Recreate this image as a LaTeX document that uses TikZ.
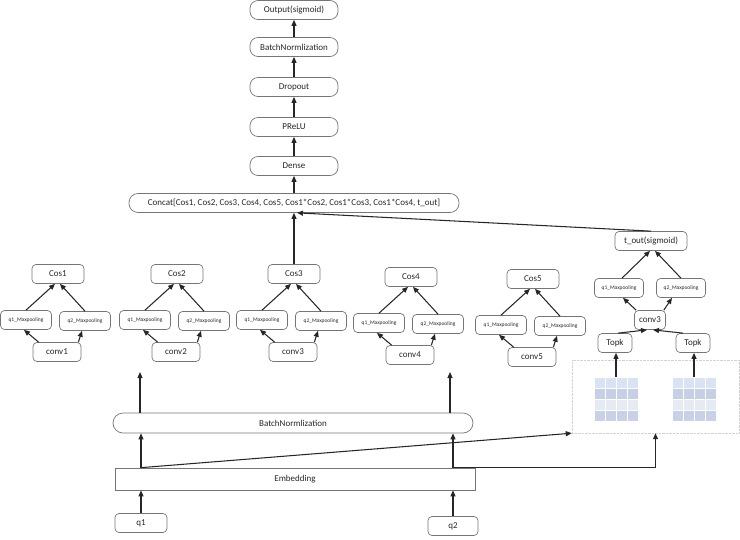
\documentclass[tikz,border=0pt]{standalone}
\usepackage{fontspec}
\setmainfont{Carlito}
\usepackage{xcolor}
\usepackage{tikz}
\usetikzlibrary{arrows.meta,positioning,calc}

\definecolor{boxline}{HTML}{767676}
\definecolor{gridA}{HTML}{DAE3F1}
\definecolor{gridB}{HTML}{C5CFE5}
\definecolor{gridC}{HTML}{E6EAF3}
\definecolor{gridD}{HTML}{C8D1E7}

\begin{document}
\begin{tikzpicture}[x=1pt, y=-1pt,
  every node/.style={font=\fontsize{9}{10}\selectfont, text=black!85},
  box/.style={draw=boxline, line width=0.7pt, rounded corners=4pt,
              minimum height=19pt, inner sep=1pt},
  pill/.style={box, rounded corners=8pt},
  poolbox/.style={box, minimum width=51pt, font=\fontsize{5.5}{6}\selectfont},
  arr/.style={-{Triangle[width=5pt,length=6pt]}, line width=1.05pt, black!85}]

\useasboundingbox (0,0) rectangle (740,539);

%% ── Output chain (1 unit = 1pt, y downwards) ────────────────────────────────
\node[pill, minimum width=88pt] (out)    at (294, 10)  {Output(sigmoid)};
\node[pill, minimum width=88pt] (bnt)    at (294, 47)  {BatchNormlization};
\node[pill, minimum width=88pt] (drop)   at (294, 87)  {Dropout};
\node[pill, minimum width=88pt] (prelu)  at (294, 127) {PReLU};
\node[pill, minimum width=88pt] (dense)  at (294, 166) {Dense};
\node[box, rounded corners=9pt, minimum width=330pt] (concat) at (294, 203)
  {Concat[Cos1, Cos2, Cos3, Cos4, Cos5, Cos1*Cos2, Cos1*Cos3, Cos1*Cos4, t\_out]};

\foreach \a/\b in {concat/dense, dense/prelu, prelu/drop, drop/bnt, bnt/out}
  \draw[arr] (\a.north) -- (\b.south);

%% ── Conv groups 1..5 ────────────────────────────────────────────────────────
\foreach \i/\cx/\dy in {1/58/0, 2/177/0, 3/294/0, 4/411/3, 5/533/5}{
  \node[box, minimum width=52pt] (cos\i) at (\cx, {274+\dy}) {Cos\i};
  \node[poolbox] (qa\i) at ({\cx-32}, {320+\dy}) {q1\_Maxpooling};
  \node[poolbox] (qb\i) at ({\cx+27}, {321+\dy}) {q2\_Maxpooling};
  \node[box, minimum width=48pt] (conv\i) at ({\cx-1}, {352+\dy}) {conv\i};
  \draw[arr] ([xshift=6pt]conv\i.north west) -- ([xshift=-2pt]qa\i.south);
  \draw[arr] ([xshift=-3pt]conv\i.north east) -- ([xshift=-3pt]qb\i.south);
  \draw[arr] (qa\i.north) -- ([xshift=-3pt]cos\i.south);
  \draw[arr] (qb\i.north) -- ([xshift=2pt]cos\i.south);
}

\draw[arr] (cos3.north) -- (cos3.north |- concat.south);

%% ── Top-k branch ────────────────────────────────────────────────────────────
\node[box, minimum width=72pt] (tout) at (651, 241) {t\_out(sigmoid)};
\node[poolbox, minimum width=49pt] (qa6) at (619, 288) {q1\_Maxpooling};
\node[poolbox, minimum width=49pt] (qb6) at (681, 288) {q2\_Maxpooling};
\node[box, minimum width=31pt] (conv6) at (650, 320) {conv3};
\node[box, minimum width=34pt] (topk1) at (615, 343) {Topk};
\node[box, minimum width=34pt] (topk2) at (693, 343) {Topk};

\node[draw=gray!35, densely dotted, minimum width=167pt, minimum height=73pt,
      inner sep=0pt] (tkbox) at (655.5, 396.5) {};

\foreach \g/\gx in {1/594, 2/672}{
  \node[minimum width=44pt, minimum height=44pt, inner sep=0pt] (grid\g)
    at ({\gx+22}, 399) {};
  \foreach \r/\col in {0/gridA, 1/gridB, 2/gridC, 3/gridD}
    \foreach \c in {0,...,3}
      \fill[\col] ({\gx+\c*11+0.5}, {377+\r*11+0.5}) rectangle ++(10, 10);
}

\draw[arr] (grid1.north) -- (grid1.north |- topk1.south);
\draw[arr] (grid2.north) -- (grid2.north |- topk2.south);
\draw[arr] ([xshift=3pt]topk1.north) -- ([xshift=-3pt]conv6.south);
\draw[arr] ([xshift=-10pt]topk2.north) -- ([xshift=3pt]conv6.south);
\draw[arr] ([xshift=2pt]conv6.north west) -- ([xshift=4pt]qa6.south);
\draw[arr] ([xshift=-2pt]conv6.north east) -- ([xshift=-9pt]qb6.south);
\draw[arr] ([xshift=3pt]qa6.north) -- ([xshift=-1pt]tout.south);
\draw[arr] (qb6.north) -- ([xshift=4pt]tout.south);
\draw[arr] (tout.north) -- ([xshift=3pt]concat.south);

%% ── Inputs, embedding, batch norm ───────────────────────────────────────────
\node[box, minimum width=52pt] (q1) at (141, 523) {q1};
\node[box, minimum width=50pt] (q2) at (453, 526) {q2};
\node[draw=boxline, line width=0.7pt, minimum width=360pt, minimum height=22pt]
  (emb) at (295, 479) {Embedding};
\node[box, rounded corners=10pt, minimum width=360pt, minimum height=20pt]
  (bnb) at (293, 423) {BatchNormlization};

\draw[arr] (q1.north) -- (q1.north |- emb.south);
\draw[arr] (q2.north) -- (q2.north |- emb.south);

\coordinate (ea) at (q1.north |- emb.north);
\coordinate (eb) at (q2.north |- emb.north);
\draw[arr] (ea) -- (ea |- bnb.south);
\draw[arr] (eb) -- (eb |- bnb.south);
\draw[arr] (ea) -- (tkbox.south west);
\draw[arr] (eb) -| (tkbox.south);

\coordinate (ua) at (140, 372);
\coordinate (ub) at (450, 372);
\draw[arr] (ua |- bnb.north) -- (ua);
\draw[arr] (ub |- bnb.north) -- (ub);

\end{tikzpicture}
\end{document}
